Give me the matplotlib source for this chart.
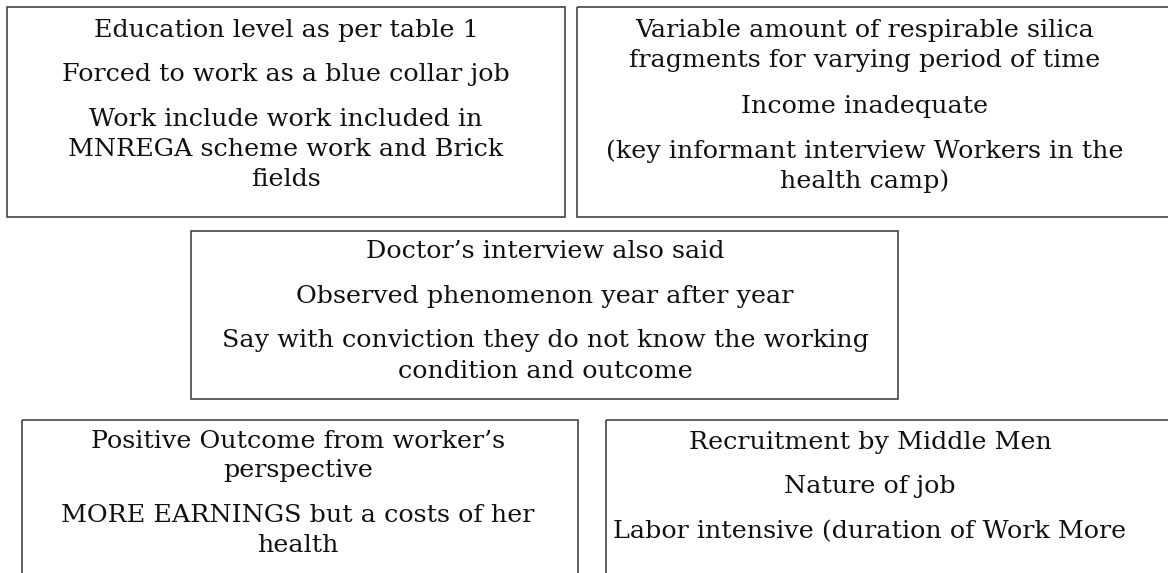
import matplotlib.pyplot as plt
from matplotlib.patches import Rectangle

# text of each box, one entry per printed line
box_texts = [
    ["Education level as per table 1",
     "Forced to work as a blue collar job",
     "Work include work included in",
     "MNREGA scheme work and Brick",
     "fields"],
    ["Variable amount of respirable silica",
     "fragments for varying period of time",
     "Income inadequate",
     "(key informant interview Workers in the",
     "health camp)"],
    ["Doctor\u2019s interview also said",
     "Observed phenomenon year after year",
     "Say with conviction they do not know the working",
     "condition and outcome"],
    ["Positive Outcome from worker\u2019s",
     "perspective",
     "MORE EARNINGS but a costs of her",
     "health"],
    ["Recruitment by Middle Men",
     "Nature of job",
     "Labor intensive (duration of Work More"],
]

# layout in pixels (x0, y0, x1, y1), y measured from the top
box_rects = [(7, 7, 565, 217), (577, 7, 1180, 217), (191, 231, 898, 399),
             (22, 420, 578, 590), (606, 420, 1180, 590)]
text_cx = [286, 865, 545, 298, 870]
text_y = [[31, 74, 119, 149, 179],
          [31, 61, 106, 151, 181],
          [252, 296, 341, 371],
          [442, 471, 516, 546],
          [442, 487, 532]]

W, H = 1168, 573
fig = plt.figure(figsize=(W / 100, H / 100), dpi=100)
ax = fig.add_axes([0, 0, 1, 1])
ax.set_xlim(0, W)
ax.set_ylim(H, 0)
ax.axis('off')

for rect, cx, ys, lines in zip(box_rects, text_cx, text_y, box_texts):
    x0, y0, x1, y1 = rect
    ax.add_patch(Rectangle((x0, y0), x1 - x0, y1 - y0, fill=False,
                           edgecolor='#444444', linewidth=1.2))
    for y, line in zip(ys, lines):
        ax.text(cx, y, line, ha='center', va='center', fontsize=18.3,
                family='DejaVu Serif', color='#111111')

fig.savefig('out.png', dpi=100)
